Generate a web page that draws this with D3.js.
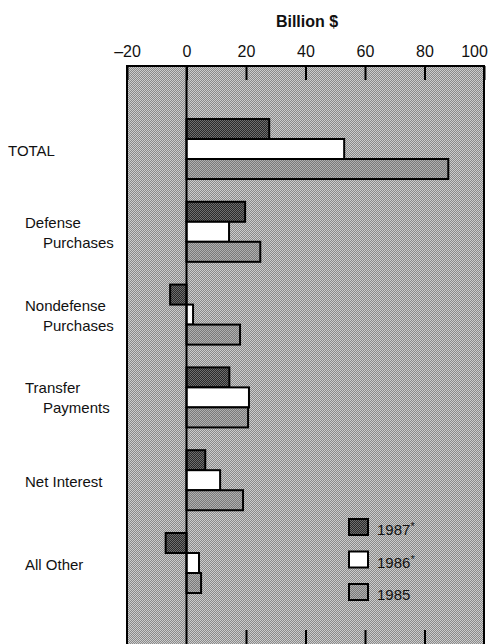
<!DOCTYPE html>
<html><head><meta charset="utf-8">
<script src="https://cdn.jsdelivr.net/npm/d3@7"></script>
<style>
html,body{margin:0;padding:0;background:#fff;}
text{font-family:"Liberation Sans",Arial,sans-serif;fill:#111;}
</style></head>
<body><svg id="c" width="490" height="644"></svg>
<script>
const categories = ["TOTAL","Defense Purchases","Nondefense Purchases","Transfer Payments","Net Interest","All Other"];
const labelLines = [["TOTAL"],["Defense","Purchases"],["Nondefense","Purchases"],["Transfer","Payments"],["Net Interest"],["All Other"]];
const years = ["1987","1986","1985"];
const yearLabels = ["1987","1986","1985"];
const yearStars = ["*","*",""];
const v1987 = [27.8, 19.7, -5.5, 14.4, 6.3, -7];
const v1986 = [53, 14.3, 2.2, 21, 11.3, 4.2];
const v1985 = [88, 24.8, 18, 20.7, 19, 4.9];
const xTicks = [-20, 0, 20, 40, 60, 80, 100];
const series = [v1987, v1986, v1985];

const svg = d3.select("#c");
const defs = svg.append("defs");
function checker(id, a, b){
  const p = defs.append("pattern").attr("id", id).attr("width", 2).attr("height", 2).attr("patternUnits", "userSpaceOnUse");
  p.append("rect").attr("width", 2).attr("height", 2).attr("fill", a);
  p.append("rect").attr("width", 1).attr("height", 1).attr("fill", b);
  p.append("rect").attr("x", 1).attr("y", 1).attr("width", 1).attr("height", 1).attr("fill", b);
}
checker("bg", "#8a8a8a", "#cccccc");
checker("p1987", "#2a2a2a", "#6e6e6e");
checker("p1985", "#7a7a7a", "#b0b0b0");
const fills = {"1987":"url(#p1987)","1986":"#ffffff","1985":"url(#p1985)"};

const x = d3.scaleLinear().domain([-20, 100]).range([127, 484]);
const y = d3.scaleBand().domain(categories).range([107.6, 604.4]).paddingInner(0.275).paddingOuter(0.1375);
const yy = d3.scaleBand().domain(years).range([0, y.bandwidth()]);

const plotTop = 66, plotBottom = 652;
svg.append("rect").attr("x", x(-20)).attr("y", plotTop).attr("width", x(100) - x(-20)).attr("height", plotBottom - plotTop)
  .attr("fill", "url(#bg)");

// bars
const g = svg.append("g");
categories.forEach((c, i) => {
  years.forEach((yr, j) => {
    const v = series[j][i];
    g.append("rect")
      .attr("x", x(Math.min(0, v)))
      .attr("y", y(c) + yy(yr))
      .attr("width", Math.abs(x(v) - x(0)))
      .attr("height", yy.bandwidth())
      .attr("fill", fills[yr])
      .attr("stroke", "#000").attr("stroke-width", 2);
  });
});

// zero line
svg.append("line").attr("x1", x(0)).attr("x2", x(0)).attr("y1", plotTop).attr("y2", plotBottom)
  .attr("stroke", "#000").attr("stroke-width", 2);

// border
svg.append("rect").attr("x", x(-20)).attr("y", plotTop).attr("width", x(100) - x(-20)).attr("height", plotBottom - plotTop)
  .attr("fill", "none").attr("stroke", "#000").attr("stroke-width", 2);

// top axis
const axT = svg.append("g").attr("transform", `translate(0,${plotTop})`)
  .call(d3.axisTop(x).tickValues(xTicks).tickSize(-14).tickPadding(9)
    .tickFormat(d => d < 0 ? "\u2013" + Math.abs(d) : d));
axT.select(".domain").remove();
axT.selectAll("line").attr("stroke", "#000").attr("stroke-width", 2);
axT.selectAll("text").style("font-size", "16px").style("font-family", "Liberation Sans, Arial, sans-serif").attr("fill", "#111")
  .attr("dx", d => d === 100 ? -10 : 0);

// bottom ticks
const axB = svg.append("g").attr("transform", "translate(0,644)")
  .call(d3.axisBottom(x).tickValues(xTicks.filter(d => d > 0 && d < 100)).tickSize(-14).tickFormat(""));
axB.select(".domain").remove();
axB.selectAll("line").attr("stroke", "#000").attr("stroke-width", 2);

// title
svg.append("text").attr("x", 307).attr("y", 27).attr("text-anchor", "middle")
  .style("font-size", "16px").style("font-weight", "bold").text("Billion $");

// category labels
categories.forEach((c, i) => {
  const cy = y(c) + y.bandwidth() / 2;
  const lines = labelLines[i];
  if (lines.length === 1) {
    svg.append("text").attr("x", i === 0 ? 8 : 25).attr("y", cy + 7)
      .style("font-size", "15px").text(lines[0]);
  } else {
    svg.append("text").attr("x", 25).attr("y", cy - 4).style("font-size", "15px").text(lines[0]);
    svg.append("text").attr("x", 43).attr("y", cy + 16).style("font-size", "15px").text(lines[1]);
  }
});

// legend
const lg = svg.append("g");
years.forEach((yr, j) => {
  const ly = 519 + j * 32.5;
  lg.append("rect").attr("x", 349).attr("y", ly).attr("width", 19).attr("height", 16)
    .attr("fill", fills[yr]).attr("stroke", "#000").attr("stroke-width", 2);
  const t = lg.append("text").attr("x", 377).attr("y", ly + 16).style("font-size", "15px");
  t.append("tspan").text(yearLabels[j]);
  if (yearStars[j]) t.append("tspan").attr("dy", -5).style("font-size", "11px").text(yearStars[j]);
});
</script></body></html>
